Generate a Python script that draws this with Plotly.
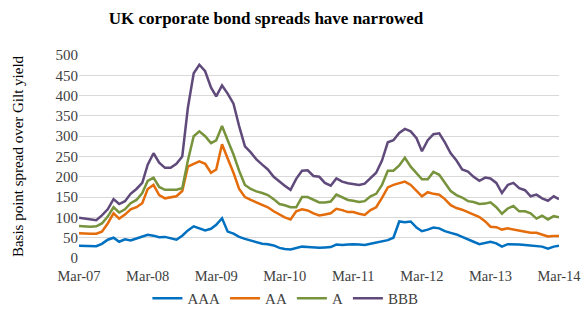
import pandas as pd
import plotly.graph_objects as go

# Monthly observations, Mar-2007 .. Mar-2014 (85 months)
months = pd.date_range("2007-03-01", periods=85, freq="MS")

aaa = [30, 30, 29, 29, 35, 45, 50, 40, 46, 43, 48, 52, 57, 55, 51, 52, 48, 45, 55, 68,
       78, 73, 68, 72, 82, 98, 65, 60, 52, 47, 43, 38, 35, 34, 31, 25, 22, 21, 25, 28,
       27, 26, 25, 26, 27, 33, 32, 33, 34, 33, 32, 35, 38, 40, 44, 50, 90, 88, 90, 75,
       66, 70, 75, 73, 66, 62, 58, 52, 45, 40, 34, 38, 40, 36, 28, 34, 34, 33, 32, 31,
       30, 28, 23, 28, 30]
aa = [61, 60, 60, 60, 65, 85, 110, 97, 107, 120, 125, 135, 170, 180, 155, 147, 149, 152, 165, 225,
      232, 238, 232, 210, 218, 280, 245, 210, 170, 150, 143, 137, 130, 125, 115, 107, 100, 95, 115, 120,
      117, 110, 105, 107, 110, 121, 118, 113, 113, 109, 106, 118, 125, 148, 174, 180, 185, 188, 180, 165,
      152, 162, 158, 156, 145, 130, 123, 119, 113, 108, 101, 90, 77, 76, 70, 73, 70, 67, 65, 62,
      62, 58, 53, 54, 54]
a = [79, 78, 77, 78, 85, 102, 125, 112, 120, 135, 143, 160, 190, 198, 175, 168, 168, 168, 172, 240,
     300, 312, 300, 283, 290, 325, 290, 255, 215, 180, 170, 164, 160, 155, 145, 133, 130, 125, 125, 150,
     150, 143, 137, 137, 139, 156, 150, 143, 141, 138, 140, 152, 158, 180, 215, 215, 228, 247, 225, 210,
     194, 194, 212, 205, 185, 165, 155, 149, 140, 138, 133, 134, 137, 125, 109, 122, 128, 115, 115, 110,
     97, 104, 95, 103, 100]
bbb = [99, 97, 95, 93, 105, 120, 145, 133, 140, 158, 170, 185, 230, 258, 235, 222, 222, 232, 250, 370,
       455, 476, 460, 420, 398, 425, 405, 380, 325, 275, 260, 243, 230, 218, 200, 188, 178, 168, 195, 215,
       216, 202, 200, 185, 178, 196, 188, 184, 182, 180, 183, 198, 210, 240, 285, 290, 308, 318, 312, 295,
       263, 290, 305, 307, 285, 258, 240, 218, 213, 200, 190, 198, 196, 185, 160, 180, 185, 172, 167, 152,
       156, 147, 141, 152, 145]

series_names = ["AAA", "AA", "A", "BBB"]
series_values = [aaa, aa, a, bbb]
series_colors = ["#0070C0", "#E46C0A", "#77933C", "#604A7B"]

tick_dates = ["2007-03-01", "2008-03-01", "2009-03-01", "2010-03-01",
              "2011-03-01", "2012-03-01", "2013-03-01", "2014-03-01"]
tick_labels = ["Mar-07", "Mar-08", "Mar-09", "Mar-10", "Mar-11", "Mar-12", "Mar-13", "Mar-14"]

FONT = "Liberation Serif"

fig = go.Figure()
for name, vals, col in zip(series_names, series_values, series_colors):
    fig.add_trace(go.Scatter(x=months, y=vals, name=name, mode="lines",
                             line=dict(color=col, width=2.5)))

fig.update_layout(
    width=583, height=329,
    margin=dict(l=79, r=24, t=55, b=71, autoexpand=False),
    paper_bgcolor="white", plot_bgcolor="white",
    font=dict(family=FONT, size=15, color="#404040"),
    title=dict(text="<b>UK corporate bond spreads have narrowed</b>",
               font=dict(family=FONT, size=17, color="#000000"),
               x=266 / 583, xanchor="center", y=1 - 18 / 329, yanchor="middle"),
    showlegend=True,
    legend=dict(orientation="h", x=0.43, xanchor="center", y=-0.2, yanchor="middle",
                font=dict(family=FONT, size=15, color="#404040"),
                itemwidth=30, tracegroupgap=0),
)
fig.update_xaxes(range=["2007-03-01", "2014-03-01"], tickvals=tick_dates, ticktext=tick_labels,
                 showgrid=False, zeroline=False, showline=False, ticks="",
                 automargin=False, ticklabelstandoff=7,
                 tickfont=dict(family=FONT, size=14.5, color="#404040"))
fig.update_yaxes(range=[0, 500], dtick=50, showgrid=True, gridcolor="#D9D9D9", gridwidth=1,
                 zeroline=False, showline=False, ticks="", automargin=False,
                 tickfont=dict(family=FONT, size=15, color="#404040"),
                 title=dict(text="Basis point spread over Gilt yield",
                            font=dict(family=FONT, size=15, color="#000000"), standoff=28))

fig.write_html("out.html", config={"displayModeBar": False},
               post_script="document.body.style.margin='0';document.body.style.overflow='hidden';")
